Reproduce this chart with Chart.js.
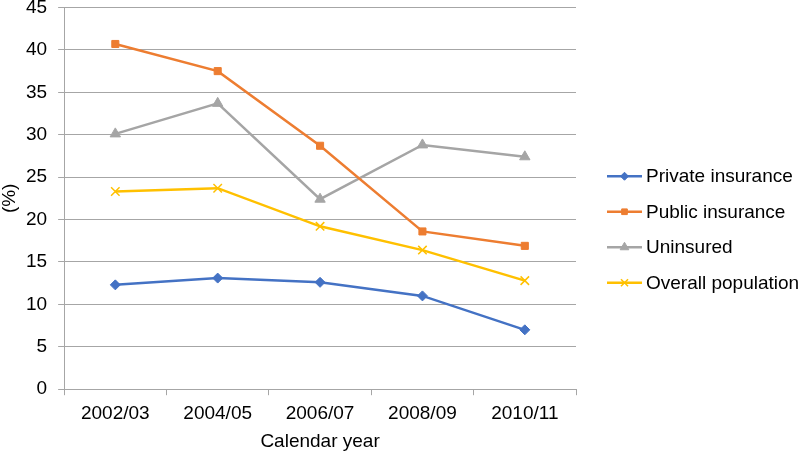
<!DOCTYPE html>
<html>
<head>
<meta charset="utf-8">
<script src="https://cdn.jsdelivr.net/npm/chart.js@4/dist/chart.umd.min.js"></script>
<style>
  html, body { margin: 0; padding: 0; background: #fff; }
  #wrap { width: 800px; height: 451px; }
</style>
</head>
<body>
<div id="wrap"><canvas id="myChart" width="800" height="451"></canvas></div>
<script>
// Data
const years = ["2002/03", "2004/05", "2006/07", "2008/09", "2010/11"];
const privateIns = [12.3, 13.1, 12.6, 11.0, 7.0];
const publicIns = [40.7, 37.5, 28.7, 18.6, 16.9];
const uninsured = [30.1, 33.7, 22.4, 28.8, 27.4];
const overall = [23.3, 23.7, 19.2, 16.4, 12.8];

const gridColor = "#a6a6a6";
const fontFamily = "'Liberation Sans', Arial, sans-serif";
const font = { family: fontFamily, size: 19 };
const titleFont = { family: fontFamily, size: 19, lineHeight: 1 };

function series(label, values, color, style, radius) {
  return {
    label: label,
    data: values,
    borderColor: color,
    backgroundColor: color,
    borderWidth: 2.5,
    pointStyle: style,
    pointRadius: radius,
    pointHoverRadius: radius,
    pointBorderWidth: style === "crossRot" ? 1.5 : 1,
    tension: 0
  };
}

// legend drawn by hand: line + marker + label, right of the plot
const sideLegend = {
  id: "sideLegend",
  afterDraw(chart) {
    const ctx = chart.ctx;
    const area = chart.chartArea;
    const x0 = area.right + 31;
    const lineLen = 35;
    const rowGap = 35.5;
    const midY = chart.height / 2 + 4;
    const sets = chart.data.datasets;
    sets.forEach((ds, i) => {
      const y = midY + (i - (sets.length - 1) / 2) * rowGap;
      ctx.save();
      ctx.strokeStyle = ds.borderColor;
      ctx.lineWidth = 2.5;
      ctx.beginPath();
      ctx.moveTo(x0, y);
      ctx.lineTo(x0 + lineLen, y);
      ctx.stroke();
      ctx.fillStyle = ds.backgroundColor;
      ctx.lineWidth = ds.pointBorderWidth;
      Chart.helpers.drawPoint(ctx, {
        pointStyle: ds.pointStyle,
        radius: ds.pointRadius - 1,
        borderWidth: ds.pointBorderWidth,
        rotation: 0
      }, x0 + lineLen / 2, y);
      ctx.fillStyle = "#000";
      ctx.font = "19px " + fontFamily;
      ctx.textBaseline = "middle";
      ctx.textAlign = "left";
      ctx.fillText(ds.label, x0 + lineLen + 4, y + 1);
      ctx.restore();
    });
  }
};

// Configuration
const config = {
  type: "line",
  data: {
    labels: years,
    datasets: [
      series("Private insurance", privateIns, "#4472C4", "rectRot", 5),
      series("Public insurance", publicIns, "#ED7D31", "rect", 5),
      series("Uninsured", uninsured, "#A5A5A5", "triangle", 6),
      series("Overall population", overall, "#FFC000", "crossRot", 6)
    ]
  },
  options: {
    responsive: false,
    animation: false,
    layout: { padding: { top: 0, right: 224, left: 0, bottom: 0 } },
    plugins: {
      tooltip: { enabled: false },
      legend: { display: false }
    },
    scales: {
      x: {
        offset: true,
        grid: { offset: true, drawOnChartArea: false, color: gridColor, tickLength: 6 },
        border: { color: gridColor },
        ticks: { font: font, color: "#000", padding: 7 },
        title: { display: true, text: "Calendar year", font: titleFont, color: "#000", padding: { top: 0, bottom: 0 } }
      },
      y: {
        min: 0,
        max: 45,
        ticks: { stepSize: 5, font: font, color: "#000", padding: 11 },
        grid: { color: gridColor, tickLength: 6 },
        border: { color: gridColor },
        title: { display: true, text: "(%)", font: titleFont, color: "#000", padding: { top: 0.5, bottom: -4.5 } },
        afterFit(scale) {
          // top label may run to the canvas edge, as in the source
          scale.paddingTop = 6;
        }
      }
    }
  },
  plugins: [sideLegend]
};

// Create chart
const ctx = document.getElementById("myChart").getContext("2d");
const myChart = new Chart(ctx, config);
</script>
</body>
</html>
